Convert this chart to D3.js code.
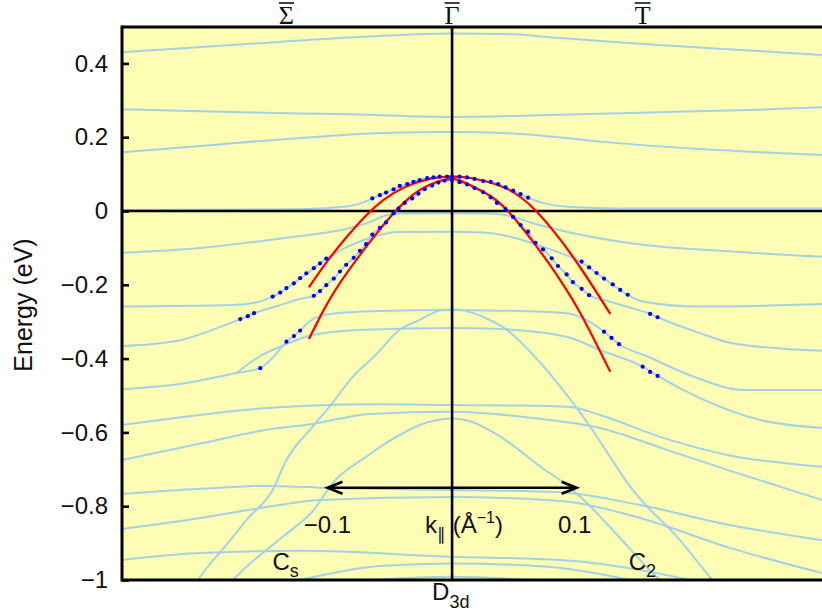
<!DOCTYPE html>
<html><head><meta charset="utf-8">
<script src="https://cdn.jsdelivr.net/npm/d3@7"></script>
<style>body{margin:0;background:#fff}text{font-family:"Liberation Sans",Arial,sans-serif;fill:#111}</style>
</head><body>
<svg id="c" width="822" height="613"></svg>
<script>
// ---- data (k in 1/Å, E in eV) ----
const yTicks = [0.4, 0.2, 0, -0.2, -0.4, -0.6, -0.8, -1];
const yTickLabels = ["0.4", "0.2", "0", "\u22120.2", "\u22120.4", "\u22120.6", "\u22120.8", "\u22121"];
const symPoints = [{t:"\u03A3", k:-0.133}, {t:"\u0393", k:0}, {t:"T", k:0.153}];
const arrowK = [-0.1, 0.1];
const arrowE = -0.75;

const bandA = [[-0.265,0.430],[-0.162,0.453],[-0.082,0.470],[0,0.481],[0.039,0.480],[0.087,0.469],[0.159,0.451],[0.239,0.435],[0.297,0.423]];
const bandB = [[-0.265,0.276],[-0.162,0.267],[-0.082,0.262],[0,0.255],[0.079,0.260],[0.159,0.267],[0.239,0.274],[0.297,0.281]];
const bandC = [[-0.265,0.159],[-0.202,0.176],[-0.122,0.198],[-0.042,0.213],[0,0.214],[0.055,0.209],[0.119,0.188],[0.199,0.168],[0.297,0.152]];
const bandD = [[-0.265,0.003],[-0.162,0.004],[-0.106,0.007],[-0.085,0.012],[-0.072,0.022],[-0.064,0.034],[-0.058,0.043],[-0.047,0.059],[-0.036,0.073],[-0.026,0.084],[-0.015,0.091],[0,0.093],[0.012,0.091],[0.025,0.081],[0.037,0.073],[0.049,0.055],[0.061,0.036],[0.075,0.020],[0.095,0.011],[0.135,0.007],[0.297,0.007]];
const bandE = [[-0.265,-0.113],[-0.202,-0.100],[-0.162,-0.085],[-0.122,-0.068],[-0.098,-0.057],[-0.082,-0.046],[-0.066,-0.030],[-0.052,-0.011],[-0.042,-0.007],[0,-0.006],[0.031,-0.007],[0.043,-0.011],[0.065,-0.033],[0.092,-0.056],[0.145,-0.088],[0.226,-0.110],[0.297,-0.124]];
const bandF = [[-0.265,-0.259],[-0.176,-0.255],[-0.156,-0.247],[-0.144,-0.232],[-0.133,-0.210],[-0.122,-0.183],[-0.111,-0.155],[-0.101,-0.129],[-0.090,-0.107],[-0.078,-0.088],[-0.063,-0.070],[-0.044,-0.057],[0,-0.056],[0.025,-0.058],[0.047,-0.070],[0.071,-0.095],[0.091,-0.119],[0.103,-0.137],[0.116,-0.168],[0.128,-0.198],[0.140,-0.225],[0.153,-0.245],[0.199,-0.259],[0.297,-0.252]];
const bandP = [[-0.265,-0.366],[-0.218,-0.350],[-0.186,-0.314],[-0.170,-0.293],[-0.159,-0.277],[-0.138,-0.255],[-0.122,-0.238],[-0.111,-0.230],[-0.106,-0.217],[-0.101,-0.201],[-0.095,-0.183],[-0.090,-0.164],[-0.085,-0.146],[-0.079,-0.127],[-0.074,-0.108],[-0.069,-0.090],[-0.064,-0.064],[-0.058,-0.046],[-0.053,-0.031],[-0.047,-0.006],[-0.043,0.007],[-0.038,0.022],[-0.032,0.034],[-0.027,0.047],[-0.022,0.059],[-0.016,0.069],[-0.011,0.077],[-0.006,0.082],[0,0.084],[0.006,0.078],[0.012,0.072],[0.018,0.062],[0.025,0.051],[0.031,0.037],[0.036,0.022],[0.043,0.005],[0.049,-0.016],[0.055,-0.038],[0.061,-0.056],[0.067,-0.086],[0.073,-0.104],[0.080,-0.128],[0.085,-0.149],[0.092,-0.172],[0.097,-0.193],[0.104,-0.211],[0.110,-0.228],[0.124,-0.243],[0.141,-0.260],[0.159,-0.279],[0.165,-0.288],[0.199,-0.331],[0.226,-0.359],[0.297,-0.379]];
const bandG = [[-0.265,-0.483],[-0.213,-0.466],[-0.173,-0.439],[-0.154,-0.426],[-0.142,-0.390],[-0.133,-0.354],[-0.127,-0.339],[-0.122,-0.324],[-0.114,-0.298],[-0.098,-0.279],[-0.058,-0.271],[0,-0.268],[0.039,-0.270],[0.092,-0.277],[0.111,-0.301],[0.122,-0.327],[0.134,-0.361],[0.156,-0.393],[0.194,-0.449],[0.234,-0.485],[0.297,-0.485]];
const bandH = [[-0.173,-0.439],[-0.154,-0.393],[-0.138,-0.368],[-0.112,-0.336],[-0.071,-0.322],[0,-0.317],[0.039,-0.320],[0.092,-0.341],[0.119,-0.377],[0.153,-0.422],[0.165,-0.447],[0.199,-0.507],[0.247,-0.566],[0.297,-0.588]];
const hump1 = [[-0.204,-1.0],[-0.200,-0.981],[-0.178,-0.892],[-0.165,-0.837],[-0.144,-0.756],[-0.133,-0.675],[-0.112,-0.585],[-0.096,-0.520],[-0.080,-0.450],[-0.063,-0.396],[-0.042,-0.322],[-0.026,-0.295],[-0.010,-0.270],[0,-0.266],[0.010,-0.270],[0.027,-0.290],[0.044,-0.322],[0.071,-0.412],[0.097,-0.520],[0.111,-0.585],[0.127,-0.667],[0.145,-0.756],[0.157,-0.802],[0.178,-0.873],[0.207,-0.992],[0.209,-1.0]];
const hump2 = [[-0.176,-1.0],[-0.165,-0.964],[-0.136,-0.883],[-0.111,-0.810],[-0.096,-0.738],[-0.069,-0.666],[-0.042,-0.607],[-0.026,-0.580],[-0.010,-0.565],[0,-0.562],[0.014,-0.569],[0.039,-0.612],[0.071,-0.693],[0.097,-0.756],[0.111,-0.801],[0.140,-0.905],[0.156,-0.964],[0.167,-1.0]];
const bandL1 = [[-0.265,-0.580],[-0.213,-0.557],[-0.160,-0.537],[-0.116,-0.528],[-0.058,-0.524],[0,-0.526],[0.055,-0.527],[0.095,-0.531],[0.119,-0.553],[0.167,-0.612],[0.221,-0.661],[0.297,-0.693]];
const bandL2 = [[-0.265,-0.675],[-0.202,-0.630],[-0.149,-0.593],[-0.112,-0.577],[-0.066,-0.550],[0,-0.544],[0.065,-0.561],[0.119,-0.588],[0.173,-0.648],[0.226,-0.707],[0.297,-0.783]];
const bandL3 = [[-0.265,-0.767],[-0.202,-0.753],[-0.149,-0.745],[-0.098,-0.751],[0,-0.756],[0.087,-0.762],[0.151,-0.797],[0.223,-0.851],[0.297,-0.892]];
const bandL4 = [[-0.265,-0.862],[-0.202,-0.832],[-0.154,-0.805],[-0.106,-0.783],[0,-0.775],[0.087,-0.786],[0.151,-0.832],[0.223,-0.913],[0.297,-0.981]];
const bandL5 = [[-0.265,-0.946],[-0.202,-0.927],[-0.122,-0.921],[0,-0.937],[0.087,-0.946],[0.159,-0.978],[0.191,-1.0]];
const bandL6 = [[-0.122,-1.0],[-0.058,-0.962],[0,-0.955],[0.079,-0.965],[0.143,-1.0]];
const bandL7 = [[-0.066,-1.0],[0,-0.991],[0.063,-1.0]];

const redOuter = [[-0.115,-0.207],[-0.101,-0.140],[-0.085,-0.072],[-0.069,-0.012],[-0.055,0.030],[-0.039,0.063],[-0.018,0.087],[0,0.093],[0.017,0.088],[0.044,0.060],[0.068,-0.002],[0.097,-0.124],[0.127,-0.279]];
const redInner = [[-0.115,-0.347],[-0.103,-0.268],[-0.090,-0.195],[-0.071,-0.106],[-0.058,-0.050],[-0.047,-0.006],[-0.031,0.045],[-0.018,0.071],[-0.007,0.084],[0,0.087],[0.006,0.083],[0.025,0.052],[0.044,0.003],[0.068,-0.097],[0.084,-0.173],[0.103,-0.277],[0.127,-0.436]];

const dotsOuter = [[-0.064,0.034],[-0.058,0.043],[-0.053,0.050],[-0.047,0.059],[-0.042,0.068],[-0.036,0.073],[-0.031,0.079],[-0.026,0.084],[-0.020,0.089],[-0.015,0.091],[-0.010,0.093],[-0.004,0.093],[0.000,0.093],[0.006,0.093],[0.012,0.091],[0.018,0.087],[0.025,0.081],[0.031,0.079],[0.037,0.073],[0.043,0.064],[0.049,0.055],[0.055,0.046],[0.061,0.036],
  [-0.144,-0.232],[-0.138,-0.221],[-0.133,-0.209],[-0.127,-0.196],[-0.122,-0.182],[-0.117,-0.169],[-0.111,-0.155],[-0.106,-0.142],[-0.101,-0.129],
  [-0.170,-0.293],[-0.164,-0.285],[-0.159,-0.277],
  [0.104,-0.137],[0.110,-0.153],[0.116,-0.168],[0.122,-0.183],[0.129,-0.199],[0.135,-0.214],[0.141,-0.227],
  [0.159,-0.279],[0.165,-0.288]];
const dotsInner = [[-0.111,-0.230],[-0.106,-0.217],[-0.101,-0.201],[-0.095,-0.183],[-0.090,-0.164],[-0.085,-0.146],[-0.079,-0.127],[-0.074,-0.108],[-0.069,-0.090],[-0.064,-0.064],[-0.058,-0.046],[-0.053,-0.031],[-0.047,-0.006],[-0.043,0.007],[-0.038,0.022],[-0.032,0.034],[-0.027,0.047],[-0.022,0.059],[-0.016,0.069],[-0.011,0.077],[-0.006,0.082],[0,0.084],
  [0.006,0.078],[0.012,0.072],[0.018,0.062],[0.025,0.051],[0.031,0.037],[0.036,0.022],[0.043,0.005],[0.049,-0.016],[0.055,-0.038],[0.061,-0.056],[0.067,-0.086],[0.073,-0.104],[0.080,-0.128],[0.085,-0.149],[0.092,-0.172],[0.097,-0.193],[0.104,-0.211],[0.110,-0.228],
  [-0.133,-0.354],[-0.127,-0.339],[-0.122,-0.324],[-0.154,-0.426],
  [0.122,-0.327],[0.128,-0.344],[0.134,-0.361],
  [0.153,-0.422],[0.159,-0.436],[0.165,-0.447]];

const bands = [bandA, bandB, bandC, bandD, bandE, bandF, bandP, bandG, bandH, hump1, hump2, bandL1, bandL2, bandL3, bandL4, bandL5, bandL6, bandL7];

// ---- drawing ----
const svg = d3.select("#c");
const L = 122, R = 822, T = 26.5, B = 580;
const x = d3.scaleLinear().domain([-0.265, 0.297]).range([L, R]);
const y = d3.scaleLinear().domain([-1, 0.5]).range([B, T]);

svg.append("defs").append("clipPath").attr("id", "clip")
  .append("rect").attr("x", L).attr("y", T).attr("width", R - L).attr("height", B - T);

svg.append("rect").attr("x", L).attr("y", T).attr("width", R - L).attr("height", B - T).attr("fill", "#fdfdb3");

const g = svg.append("g").attr("clip-path", "url(#clip)");
const line = d3.line().x(d => x(d[0])).y(d => y(d[1])).curve(d3.curveMonotoneX);
const smooth = d3.line().x(d => x(d[0])).y(d => y(d[1])).curve(d3.curveNatural);

g.selectAll("path.band").data(bands).join("path").attr("class", "band")
  .attr("d", line).attr("fill", "none").attr("stroke", "#a3d2e8").attr("stroke-width", 2);

// zero line and Gamma line
g.append("line").attr("x1", L).attr("x2", R).attr("y1", y(0)).attr("y2", y(0)).attr("stroke", "#000").attr("stroke-width", 2.6);
g.append("line").attr("x1", x(0)).attr("x2", x(0)).attr("y1", T).attr("y2", B).attr("stroke", "#000").attr("stroke-width", 2.6);

g.selectAll("path.red").data([redOuter, redInner]).join("path").attr("class", "red")
  .attr("d", smooth).attr("fill", "none").attr("stroke", "#ff0000").attr("stroke-width", 2.2);

g.selectAll("circle.dot").data(dotsOuter.concat(dotsInner)).join("circle").attr("class", "dot")
  .attr("cx", d => x(d[0])).attr("cy", d => y(d[1])).attr("r", 2.1).attr("fill", "#0000ff");

// frame
svg.append("line").attr("x1", L).attr("x2", R).attr("y1", 27).attr("y2", 27).attr("stroke", "#000").attr("stroke-width", 3);
svg.append("line").attr("x1", L).attr("x2", R).attr("y1", B).attr("y2", B).attr("stroke", "#000").attr("stroke-width", 3);
svg.append("line").attr("x1", L).attr("x2", L).attr("y1", 25.5).attr("y2", B + 1.5).attr("stroke", "#000").attr("stroke-width", 3);

// y axis
const yAxis = d3.axisLeft(y).tickValues(yTicks).tickSize(-7).tickPadding(14)
  .tickFormat((d, i) => yTickLabels[i]);
const ya = svg.append("g").attr("transform", `translate(${L},0)`).call(yAxis);
ya.select(".domain").remove();
ya.selectAll(".tick line").attr("stroke", "#000").attr("stroke-width", 2.6);
ya.selectAll(".tick text").attr("font-size", 24).attr("font-family", "Liberation Sans, Arial, sans-serif").attr("fill", "#111");

svg.append("text").attr("transform", "translate(32,305) rotate(-90)").attr("text-anchor", "middle")
  .attr("font-size", 25).text("Energy (eV)");

// symmetry point labels with overbar
symPoints.forEach(p => {
  const t = svg.append("text").attr("x", x(p.k)).attr("y", 24).attr("text-anchor", "middle")
    .attr("font-size", 26).style("font-family", "'Liberation Serif','Times New Roman',serif").text(p.t);
  const w = t.node().getComputedTextLength();
  svg.append("line").attr("x1", x(p.k) - w / 2).attr("x2", x(p.k) + w / 2).attr("y1", 3).attr("y2", 3)
    .attr("stroke", "#111").attr("stroke-width", 1.6);
});

// k arrow
const ay = y(arrowE), ax1 = x(arrowK[0]), ax2 = x(arrowK[1]);
svg.append("path").attr("d", `M${ax1},${ay}L${ax2},${ay}M${ax1 + 15},${ay - 6}L${ax1},${ay}L${ax1 + 15},${ay + 6}M${ax2 - 15},${ay - 6}L${ax2},${ay}L${ax2 - 15},${ay + 6}`)
  .attr("fill", "none").attr("stroke", "#000").attr("stroke-width", 2.6);
svg.append("text").attr("x", x(arrowK[0])).attr("y", 533).attr("text-anchor", "middle").attr("font-size", 24).text("\u22120.1");
svg.append("text").attr("x", x(arrowK[1]) - 2).attr("y", 533).attr("text-anchor", "middle").attr("font-size", 24).text("0.1");

const kt = svg.append("text").attr("x", 425).attr("y", 533).attr("font-size", 24);
kt.append("tspan").text("k");
kt.append("tspan").attr("font-size", 17).attr("dy", 7).text("\u2225");
kt.append("tspan").attr("font-size", 24).attr("dy", -7).text(" (\u00C5");
kt.append("tspan").attr("font-size", 16).attr("dy", -10).text("\u22121");
kt.append("tspan").attr("font-size", 24).attr("dy", 10).text(")");

// point group labels
const grp = [{t:"C", s:"s", k:-0.133}, {t:"C", s:"2", k:0.153}];
grp.forEach(p => {
  const t = svg.append("text").attr("x", x(p.k) - 14).attr("y", 570).attr("font-size", 24);
  t.append("tspan").text(p.t);
  t.append("tspan").attr("font-size", 18).attr("dy", 7).text(p.s);
});
const dt = svg.append("text").attr("x", x(0) - 20).attr("y", 600).attr("font-size", 24);
dt.append("tspan").text("D");
dt.append("tspan").attr("font-size", 18).attr("dy", 8).text("3d");
</script>
</body></html>
